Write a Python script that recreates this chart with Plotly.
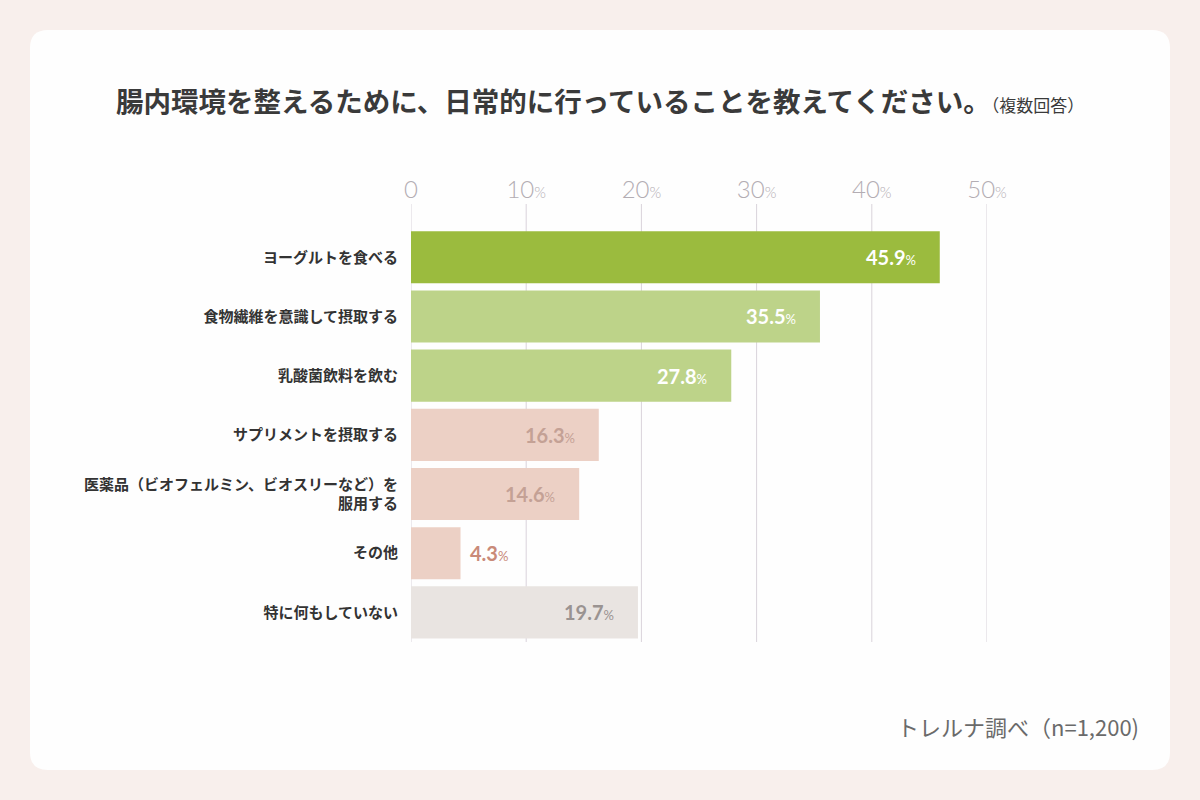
import plotly.graph_objects as go

categories = [
    "ヨーグルトを食べる",
    "食物繊維を意識して摂取する",
    "乳酸菌飲料を飲む",
    "サプリメントを摂取する",
    "医薬品（ビオフェルミン、ビオスリーなど）を<br>服用する",
    "その他",
    "特に何もしていない",
]
values = [45.9, 35.5, 27.8, 16.3, 14.6, 4.3, 19.7]
bar_colors = ["#9bbb3e", "#bdd389", "#bdd389", "#ecd0c5", "#ecd0c5", "#ecd0c5", "#e9e4e1"]
label_colors = ["#ffffff", "#ffffff", "#ffffff", "#c4a195", "#c4a195", "#c98a79", "#9a9391"]
label_inside = [True, True, True, True, True, False, True]
tick_vals = [0, 10, 20, 30, 40, 50]
tick_text = ["0"] + [f"{v}<span style='font-size:15px'>%</span>" for v in tick_vals[1:]]

W, H = 1200, 800
L, R, T, B = 411, 987, 204, 642  # plot area in px
pw, ph = R - L, B - T


def fx(px):
    return (px - L) / pw


def fy(py):
    return 1 - (py - T) / ph


fig = go.Figure()

# rounded white card
x0, x1, y0, y1, r = 30, 1170, 30, 770, 18


def P(px, py):
    return f"{fx(px)},{fy(py)}"


path = (f"M {P(x0 + r, y0)} L {P(x1 - r, y0)} Q {P(x1, y0)} {P(x1, y0 + r)} "
        f"L {P(x1, y1 - r)} Q {P(x1, y1)} {P(x1 - r, y1)} L {P(x0 + r, y1)} "
        f"Q {P(x0, y1)} {P(x0, y1 - r)} L {P(x0, y0 + r)} Q {P(x0, y0)} {P(x0 + r, y0)} Z")
fig.add_shape(type="path", path=path, xref="paper", yref="paper",
              fillcolor="#fefefe", line=dict(width=0), layer="below")

# vertical grid lines spanning the plot height
for v in tick_vals:
    fig.add_shape(type="line", xref="x", yref="paper", x0=v, x1=v, y0=0, y1=1,
                  line=dict(color="#d9d3db", width=1), layer="below")

fig.add_trace(go.Bar(
    x=values,
    y=list(range(len(categories))),
    orientation="h",
    marker=dict(color=bar_colors, line=dict(width=0)),
    hoverinfo="skip",
))

for i, (v, c, inside) in enumerate(zip(values, label_colors, label_inside)):
    fig.add_annotation(
        x=v, y=i, xref="x", yref="y", showarrow=False,
        xanchor="right" if inside else "left",
        xshift=-22 if inside else 7,
        yanchor="middle",
        text=f"<b>{v}</b><span style='font-size:13px'>%</span>",
        font=dict(color=c, size=20, family="Lato, 'Noto Sans', sans-serif"),
    )

fig.add_annotation(
    x=fx(600), y=fy(100), xref="paper", yref="paper", showarrow=False,
    xanchor="center", yanchor="middle",
    text="<b>腸内環境を整えるために、日常的に行っていることを教えてください。</b><span style='font-size:17px'>（複数回答）</span>",
    font=dict(size=27.5, color="#3a3a3a", family="Noto Sans CJK JP"),
)
fig.add_annotation(
    x=fx(1141), y=fy(726), xref="paper", yref="paper", showarrow=False,
    xanchor="right", yanchor="middle",
    text="トレルナ調べ（n=1,200)",
    font=dict(size=22, color="#6a6a6a", family="Noto Sans CJK JP"),
)

fig.update_layout(
    width=W, height=H,
    margin=dict(l=L, r=W - R, t=T, b=H - B, pad=0),
    paper_bgcolor="#f8efec",
    plot_bgcolor="rgba(0,0,0,0)",
    bargap=0.12,
    showlegend=False,
    xaxis=dict(
        side="top", range=[0, 50], tickvals=tick_vals, ticktext=tick_text,
        showgrid=False, zeroline=False,
        showline=False, ticks="",
        tickfont=dict(size=24, color="#b3adb3", family="Lato, 'Noto Sans', sans-serif", weight=300),
        fixedrange=True,
    ),
    yaxis=dict(
        range=[6.5, -0.9], tickvals=list(range(len(categories))), ticktext=categories,
        showgrid=False, zeroline=False, showline=False, ticks="",
        ticklabelstandoff=12,
        tickfont=dict(size=15, color="#333333", family="Noto Sans CJK JP", weight="bold"),
        fixedrange=True,
    ),
)

fig.write_html("out.html")
